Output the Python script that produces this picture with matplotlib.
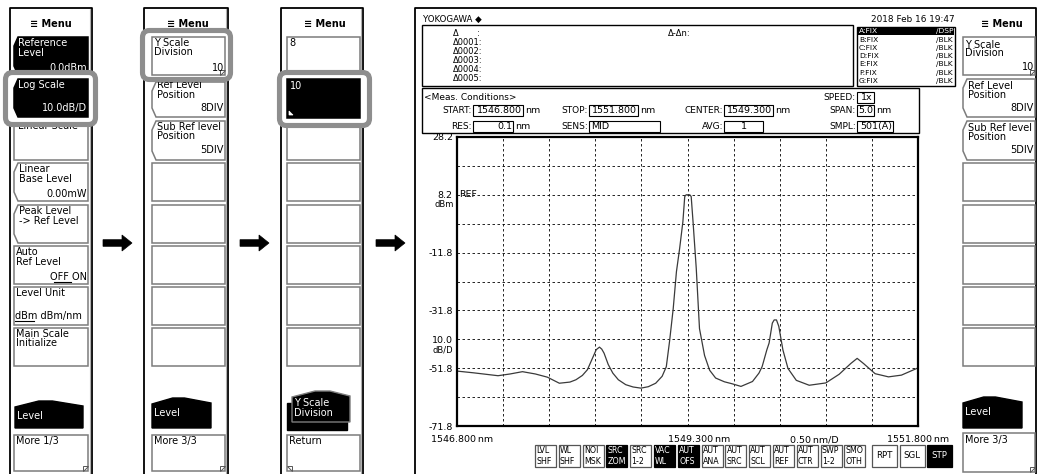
import matplotlib
matplotlib.use("Agg")
import matplotlib.pyplot as plt
from matplotlib.patches import Polygon, Rectangle, FancyBboxPatch

W, H = 1037, 474

# spectrum trace
wavelength_nm = [
    1546.800, 1546.980, 1547.245, 1547.375, 1547.510, 1547.650, 1547.780, 1547.910,
    1548.025, 1548.090, 1548.160, 1548.215, 1548.270, 1548.310, 1548.345, 1548.370,
    1548.395, 1548.440, 1548.490, 1548.550, 1548.630, 1548.710, 1548.795, 1548.875,
    1548.955, 1549.025, 1549.070, 1549.105, 1549.145, 1549.180, 1549.215, 1549.250,
    1549.270, 1549.285, 1549.325, 1549.340, 1549.360, 1549.395, 1549.430, 1549.485,
    1549.540, 1549.605, 1549.700, 1549.785, 1549.880, 1550.005, 1550.075, 1550.110,
    1550.160, 1550.185, 1550.220, 1550.240, 1550.265, 1550.290, 1550.335, 1550.390,
    1550.480, 1550.620, 1550.800, 1550.945, 1551.070, 1551.140, 1551.210, 1551.335,
    1551.480, 1551.620, 1551.800,
]
level_dbm = [
    -52.8, -53.4, -54.4, -53.8, -53.0, -53.8, -54.9, -57.0,
    -56.6, -55.8, -54.3, -52.3, -48.3, -45.4, -44.5, -45.2,
    -46.6, -50.5, -53.5, -55.8, -57.5, -58.3, -58.7, -58.2,
    -57.0, -54.6, -51.3, -42.6, -31.2, -18.4, -10.3, -1.1,
    7.6, 8.2, 8.2, 7.6, -1.1, -17.3, -38.1, -47.4,
    -52.5, -55.2, -56.5, -57.2, -58.1, -56.4, -53.5, -51.2,
    -45.5, -43.1, -36.2, -35.1, -35.1, -37.3, -45.5, -51.9,
    -56.0, -57.7, -56.9, -53.9, -50.2, -48.4, -50.2, -53.7,
    -54.8, -54.2, -51.7,
]

x_start, x_center, x_stop = 1546.8, 1549.3, 1551.8
y_top, y_bottom = 28.2, -71.8
y_div = 10.0
y_tick_labels = {28.2: "28.2", 8.2: "8.2", -11.8: "-11.8", -31.8: "-31.8",
                 -41.8: "10.0", -51.8: "-51.8", -71.8: "-71.8"}
x_text = ["1546.800\u2009nm", "1549.300\u2009nm", "0.50\u2009nm/D", "1551.800\u2009nm"]

marker_rows = ["\u0394       :", "\u03940001:", "\u03940002:", "\u03940003:", "\u03940004:", "\u03940005:"]
trace_rows = ["A", "B", "C", "D", "E", "F", "G"]
trace_modes = ["/DSP", "/BLK", "/BLK", "/BLK", "/BLK", "/BLK", "/BLK"]
date_text = "2018 Feb 16 19:47"

soft_keys = ["LVL\nSHF", "WL\nSHF", "NOI\nMSK", "SRC\nZOM", "SRC\n1-2", "VAC\nWL", "AUT\nOFS",
             "AUT\nANA", "AUT\nSRC", "AUT\nSCL", "AUT\nREF", "AUT\nCTR", "SWP\n1-2", "SMO\nOTH"]
soft_keys_on = ["SRC\nZOM", "VAC\nWL", "AUT\nOFS"]
sweep_keys = ["RPT", "SGL", "STP"]

GRAY = "#7c7c7c"
RING = "#8e8e8e"
FONT = "DejaVu Sans"

fig = plt.figure(figsize=(W / 100, H / 100), dpi=100)
ui = fig.add_axes([0, 0, 1, 1])
ui.set_xlim(0, W)
ui.set_ylim(H, 0)
ui.axis("off")


def label(x, y, s, size=7.0, color="black", ha="left", va="center", weight="normal", z=6):
    ui.text(x, y, s, fontsize=size, color=color, ha=ha, va=va, fontweight=weight,
            family=FONT, zorder=z)


def box(x0, y0, x1, y1, dark=False, notch=False, fold=None, edge=GRAY, lw=1.1, z=2):
    if notch:
        pts = [(x0 + 4, y0), (x1, y0), (x1, y1), (x0 + 4, y1), (x0, y1 - 9), (x0, y0 + 9)]
    else:
        pts = [(x0, y0), (x1, y0), (x1, y1), (x0, y1)]
    ui.add_patch(Polygon(pts, closed=True, facecolor="black" if dark else "white",
                         edgecolor="black" if dark else edge, lw=lw, zorder=z))
    if fold == "right":
        ui.add_patch(Polygon([(x1 - 5, y1), (x1 - 5, y1 - 5), (x1, y1 - 5)], closed=True,
                             facecolor="white", edgecolor="#555555", lw=0.7, zorder=z + 0.1))
    elif fold == "left":
        ui.add_patch(Polygon([(x0 + 5, y1), (x0 + 5, y1 - 5), (x0, y1 - 5)], closed=True,
                             facecolor="white", edgecolor="#555555", lw=0.7, zorder=z + 0.1))


def ring(x0, y0, x1, y1, z=3):
    ui.add_patch(FancyBboxPatch((x0 + 2.5, y0 + 2.5), x1 - x0 - 5, y1 - y0 - 5,
                                boxstyle="round,pad=0,rounding_size=7",
                                facecolor="white", edgecolor=RING, lw=3.7, zorder=z))


def tab(x0, y0, x1, y1, text, z=2):
    w = x1 - x0
    pts = [(x0, y0 + 6), (x0 + 0.35 * w, y0), (x0 + 0.55 * w, y0), (x1, y0 + 5), (x1, y1), (x0, y1)]
    ui.add_patch(Polygon(pts, closed=True, facecolor="black", edgecolor="black", lw=1, zorder=z))
    label(x0 + 2, y0 + 15, text, color="white")


def arrow(x0, y):
    pts = [(x0, y - 3.3), (x0 + 19, y - 3.3), (x0 + 19, y - 8), (x0 + 29, y),
           (x0 + 19, y + 8), (x0 + 19, y + 3.3), (x0, y + 3.3)]
    ui.add_patch(Polygon(pts, closed=True, facecolor="black", edgecolor="black", lw=0.5, zorder=2))


rows = [(37, 75), (79, 117), (121, 160), (163, 201), (205, 243), (246, 284), (287, 325), (328, 366)]

# side panels
for x0, x1 in [(10, 92), (144, 228), (281, 363)]:
    ui.plot([x0, x0, x1, x1], [H, 8, 8, H], color="black", lw=1.3, zorder=1)
    ui.plot([x1 - 2.5, x1 - 2.5], [9, H], color="#b0b0b0", lw=0.8, zorder=1)
ui.plot([415, 415, 1036, 1036], [H, 8, 8, H], color="black", lw=1.3, zorder=1)

for cx in [51, 188, 325, 1002]:
    label(cx, 24, "\u2261 Menu", size=7, ha="center", weight="bold", z=2.5)

for xa in [103, 240, 376]:
    arrow(xa, 243)

# panel 1: Level menu
bx0, bx1 = 14, 88
box(bx0, 37, bx1, 75, dark=True, notch=True)
label(bx0 + 4, 43, "Reference", color="white", z=2.5)
label(bx0 + 4, 53, "Level", color="white", z=2.5)
label(bx1 - 1, 68, "0.0dBm", color="white", ha="right", z=2.5)
box(bx0, 121, bx1, 160)
label(bx0 + 4, 126, "Linear Scale", z=2.5)
box(bx0, 163, bx1, 201, notch=True)
label(bx0 + 5, 169, "Linear")
label(bx0 + 5, 179, "Base Level")
label(bx1 - 1, 194, "0.00mW", ha="right")
box(bx0, 205, bx1, 243, notch=True)
label(bx0 + 5, 211, "Peak Level")
label(bx0 + 5, 221, "-> Ref Level")
box(bx0, 246, bx1, 284)
label(bx0 + 2, 252, "Auto")
label(bx0 + 2, 262, "Ref Level")
label(bx1 - 1, 277, "OFF ON", ha="right")
ui.plot([54, 71], [282, 282], color="black", lw=0.8, zorder=6)
box(bx0, 287, bx1, 325)
label(bx0 + 2, 293, "Level Unit")
label(bx0 + 1, 316, "dBm dBm/nm")
ui.plot([15, 34], [321, 321], color="black", lw=0.8, zorder=6)
box(bx0, 328, bx1, 366)
label(bx0 + 2, 334, "Main Scale")
label(bx0 + 2, 343, "Initialize")
tab(15, 401, 83, 428, "Level")
box(bx0, 435, bx1, 471, fold="right")
label(bx0 + 2, 441, "More 1/3")
ring(3, 70, 98, 127)
box(bx0, 79, bx1, 117, dark=True, notch=True, z=4)
label(bx0 + 4, 85, "Log Scale", color="white", z=7)
label(bx1 - 1, 108, "10.0dB/D", color="white", ha="right", z=7)

# panel 2: Scale menu 3/3
bx0, bx1 = 152, 225
box(bx0, 82, bx1, 117, notch=True)
label(bx0 + 5, 85, "Ref Level", z=2.5)
label(bx0 + 5, 95, "Position")
label(bx1 - 1, 108, "8DIV", ha="right")
box(bx0, 121, bx1, 160, notch=True)
label(bx0 + 5, 127, "Sub Ref level")
label(bx0 + 5, 136, "Position")
label(bx1 - 1, 150, "5DIV", ha="right")
for y0, y1 in rows[3:]:
    box(bx0, y0, bx1, y1)
tab(152, 398, 211, 428, "Level")
box(bx0, 435, bx1, 471, fold="right")
label(bx0 + 2, 441, "More 3/3")
ring(140, 28, 233, 82)
box(bx0, 37, bx1, 75, fold="right", z=4)
label(bx0 + 2, 43, "Y Scale", z=7)
label(bx0 + 2, 52, "Division", z=7)
label(bx1 - 1, 68, "10", ha="right", z=7)

# panel 3: Y scale division choices
bx0, bx1 = 287, 360
box(bx0, 37, bx1, 75)
label(bx0 + 2, 43, "8")
for y0, y1 in rows[2:]:
    box(bx0, y0, bx1, y1)
back = [(287, 403), (347, 403), (347, 430), (287, 430)]
ui.add_patch(Polygon(back, closed=True, facecolor="black", edgecolor="black", lw=1, zorder=2))
front = [(292, 397), (315, 391), (330, 391), (350, 396), (350, 422), (292, 422)]
ui.add_patch(Polygon(front, closed=True, facecolor="black", edgecolor=GRAY, lw=1, zorder=2.5))
label(294, 403, "Y Scale", color="white")
label(294, 413, "Division", color="white")
box(bx0, 435, bx1, 471, fold="left")
label(bx0 + 2, 441, "Return")
ring(277, 70, 372, 128)
box(bx0, 79, bx1, 118, dark=True, z=4)
ui.add_patch(Polygon([(bx0 + 2, 115), (bx0 + 2, 111), (bx0 + 6, 115)], closed=True,
                     facecolor="white", edgecolor="white", lw=0.5, zorder=5))
label(bx0 + 3, 86, "10", color="white", z=7)

# right panel on screen
bx0, bx1 = 963, 1035
box(bx0, 37, bx1, 75, fold="right")
label(bx0 + 2, 45, "Y Scale")
label(bx0 + 2, 53, "Division")
label(bx1 - 1, 67, "10", ha="right")
box(bx0, 79, bx1, 117, notch=True)
label(bx0 + 5, 86, "Ref Level")
label(bx0 + 5, 95, "Position")
label(bx1 - 1, 108, "8DIV", ha="right")
box(bx0, 121, bx1, 160, notch=True)
label(bx0 + 5, 128, "Sub Ref level")
label(bx0 + 5, 137, "Position")
label(bx1 - 1, 150, "5DIV", ha="right")
for y0, y1 in rows[3:]:
    box(bx0, y0, bx1, y1)
tab(963, 397, 1022, 428, "Level")
box(bx0, 433, bx1, 472, fold="right")
label(bx0 + 2, 440, "More 3/3")

# screen header
label(423, 19, "YOKOGAWA \u25c6", size=6.2)
label(955, 19, date_text, size=6.4, ha="right")
ui.add_patch(Rectangle((422, 25), 431, 61, facecolor="white", edgecolor="black", lw=1, zorder=2))
for i, s in enumerate(marker_rows):
    label(453, 33 + 9 * i, s, size=6)
label(668, 33, "\u0394-\u0394n:", size=6)
ui.add_patch(Rectangle((857, 27), 98, 59, facecolor="white", edgecolor="black", lw=1, zorder=2))
for i, (t, m) in enumerate(zip(trace_rows, trace_modes)):
    yy = 31.2 + 8.3 * i
    col = "black"
    if i == 0:
        ui.add_patch(Rectangle((858, 27.5), 96, 7.8, facecolor="black", lw=0, zorder=3))
        col = "white"
    label(859, yy, f"{t}:FIX", size=5.4, color=col)
    label(953, yy, m, size=5.4, color=col, ha="right")

# measurement conditions
ui.add_patch(Rectangle((422, 88), 497, 45, facecolor="white", edgecolor="black", lw=1, zorder=2))
label(424, 97, "<Meas. Conditions>", size=6.5)


def field(name, xr, bx0, bx1, y, value, align="right", unit=None):
    label(xr, y, name, size=6.5, ha="right")
    ui.add_patch(Rectangle((bx0, y - 5.5), bx1 - bx0, 11, facecolor="white",
                           edgecolor="black", lw=0.8, zorder=3))
    if align == "right":
        label(bx1 - 1, y, value, size=6.8, ha="right")
    elif align == "center":
        label((bx0 + bx1) / 2, y, value, size=6.8, ha="center")
    else:
        label(bx0 + 2, y, value, size=6.8)
    if unit:
        label(bx1 + 2, y, unit, size=6.8)


field("SPEED:", 856, 857, 874, 97, "1x")
field("START:", 472, 473, 523, 110, "1546.800", unit="nm")
field("STOP:", 588, 589, 638, 110, "1551.800", unit="nm")
field("CENTER:", 723, 724, 773, 110, "1549.300", unit="nm")
field("SPAN:", 856, 857, 874, 110, "5.0", unit="nm")
field("RES:", 472, 473, 513, 126, "0.1", unit="nm")
field("SENS:", 588, 589, 660, 126, "MID", align="left")
field("AVG:", 723, 724, 763, 126, "1", align="center")
field("SMPL:", 856, 857, 893, 126, "501(A)")

# soft keys under the trace
for i, s in enumerate(soft_keys):
    x0 = 535 + i * 23.8
    on = s in soft_keys_on
    box(x0, 445, x0 + 21, 467, dark=on, edge="#555555", lw=0.9)
    label(x0 + 1.2, 456, s, size=5.7, color="white" if on else "black")
for i, s in enumerate(sweep_keys):
    x0 = 872 + i * 27.5
    on = s == "STP"
    box(x0, 445, x0 + 25, 467, dark=on, edge="#555555", lw=0.9)
    label(x0 + 12.5, 456, s, size=6.2, ha="center", color="white" if on else "black")

# spectrum trace
ax = fig.add_axes([457 / W, (H - 426) / H, 461 / W, 289 / H])
ax.set_facecolor("white")
ax.plot(wavelength_nm, level_dbm, color="#3a3a3a", lw=0.9)
ax.set_xlim(x_start, x_stop)
ax.set_ylim(y_bottom, y_top)
xt = [x_start + (x_stop - x_start) * k / 10 for k in range(11)]
yt = [y_bottom + y_div * k for k in range(11)]
ax.set_xticks(xt)
ax.set_xticklabels([])
ax.set_yticks(yt)
ax.set_yticklabels([y_tick_labels.get(round(v, 1), "") for v in yt], fontsize=6.8, family=FONT)
ax.tick_params(length=0, pad=3)
ax.grid(True, color="black", lw=0.6, ls=(0, (3, 3)))
for sp in ax.spines.values():
    sp.set_linewidth(1.6)

ax.annotate("dBm", xy=(0, 8.2), xycoords=("axes fraction", "data"), xytext=(-2.5, -7),
            textcoords="offset points", ha="right", va="center", fontsize=6, family=FONT)
ax.annotate("dB/D", xy=(0, -41.8), xycoords=("axes fraction", "data"), xytext=(-2.5, -7.5),
            textcoords="offset points", ha="right", va="center", fontsize=6, family=FONT)
ax.annotate("REF", xy=(0, 8.2), xycoords=("axes fraction", "data"), xytext=(1.5, 0),
            textcoords="offset points", ha="left", va="center", fontsize=6.8, family=FONT)
x_pos = [x_start + 0.06, x_center + 0.13, x_center + 1.38, x_stop]
for xp, s in zip(x_pos, x_text):
    ax.annotate(s, xy=(xp, 0), xycoords=("data", "axes fraction"), xytext=(0, -10),
                textcoords="offset points", ha="center", va="center", fontsize=6.8,
                family=FONT, annotation_clip=False)

fig.savefig("out.png", dpi=100)
